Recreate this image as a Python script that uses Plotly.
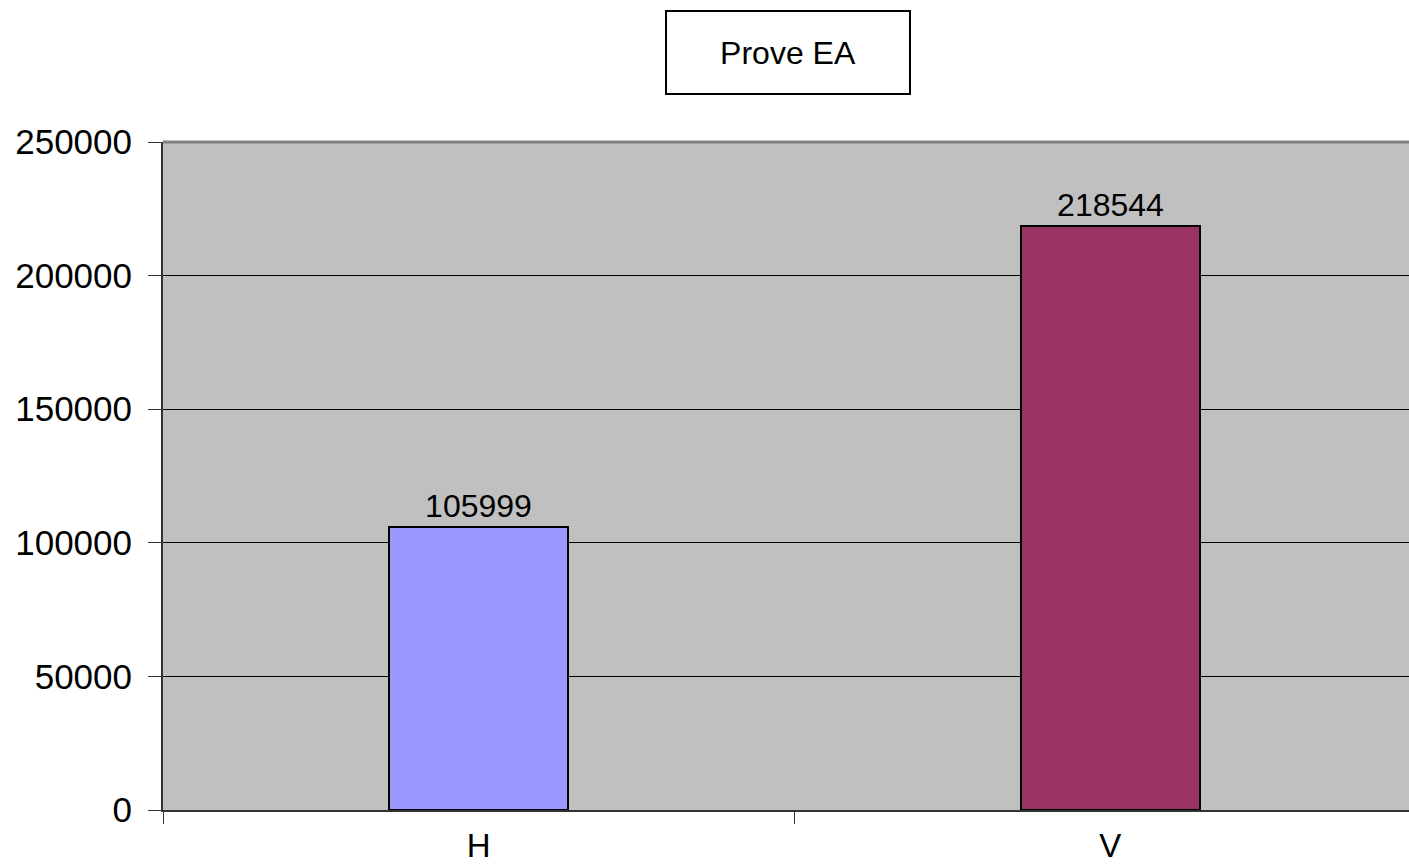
import plotly.graph_objects as go

categories = ["H", "V"]
values = [105999, 218544]
bar_colors = ["#9999FF", "#993366"]
title_text = "Prove EA"
y_ticks = [0, 50000, 100000, 150000, 200000, 250000]

FONT = "Liberation Sans, Arial, sans-serif"

fig = go.Figure()
fig.add_trace(go.Bar(
    x=categories, y=values,
    marker=dict(color=bar_colors, line=dict(color="black", width=2)),
    width=0.283,
    text=[str(v) for v in values],
    textposition="outside",
    textfont=dict(family=FONT, size=32, color="black"),
    cliponaxis=False,
    showlegend=False,
))

fig.update_layout(
    width=1409, height=867,
    margin=dict(l=163, r=0, t=142, b=57),
    paper_bgcolor="white",
    plot_bgcolor="#C0C0C0",
    font=dict(family=FONT, size=35, color="black"),
    bargap=0,
)
fig.update_xaxes(
    type="category", range=[-0.5, 1.473], automargin=False,
    tickson="boundaries", ticks="outside", ticklen=12, tickwidth=1, tickcolor="#333",
    showline=True, linecolor="#333", linewidth=2,
    showgrid=False, ticklabelstandoff=5,
    tickfont=dict(family=FONT, size=33, color="black"),
)
fig.update_yaxes(
    range=[0, 250000], tickvals=y_ticks, ticktext=[str(t) for t in y_ticks],
    automargin=False,
    ticks="outside", ticklen=13, tickwidth=1, tickcolor="#333",
    showline=True, linecolor="#333", linewidth=2,
    showgrid=True, gridcolor="black", gridwidth=1,
    zeroline=False, ticklabelstandoff=9,
    tickfont=dict(family=FONT, size=35, color="black"),
)
# top border of the plot area
fig.add_shape(type="line", xref="paper", yref="paper", x0=0, x1=1, y0=1, y1=1,
              line=dict(color="#808080", width=3))

fig.add_annotation(
    text=title_text, xref="paper", yref="paper",
    x=(788 - 163) / 1246, y=(810 - 52.5) / 668,
    xanchor="center", yanchor="middle", showarrow=False,
    width=242, height=81, borderpad=0,
    bordercolor="black", borderwidth=2, bgcolor="white",
    font=dict(family=FONT, size=32, color="black"),
)

fig.write_html(
    "out.html",
    config={"displayModeBar": False},
    post_script="document.body.style.margin='0';document.body.style.overflow='hidden';",
)
